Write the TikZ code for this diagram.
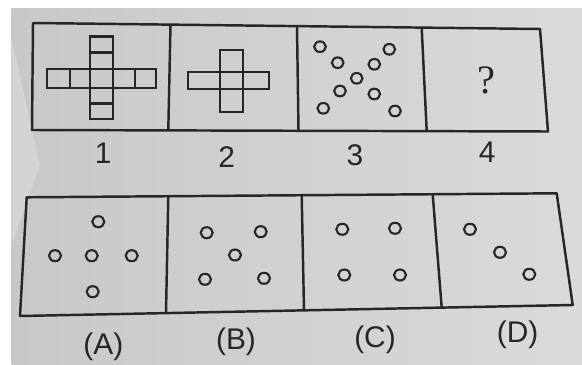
\documentclass[tikz,border=0pt]{standalone}
\usepackage{fontspec}
\setmainfont{Liberation Sans}
\newfontfamily\serifq{Liberation Serif}
\usepackage{tikz}
\usepackage{xcolor}
\definecolor{tinta}{RGB}{38,38,38}
\definecolor{papel1}{RGB}{200,200,198}
\definecolor{papel2}{RGB}{218,218,216}

\begin{document}
\begin{tikzpicture}[x=0.02cm, y=-0.02cm,
			 marco/.style={draw=tinta, line width=1.4pt, line join=round},
			 pieza/.style={draw=tinta, line width=1.35pt},
			 punto/.style={draw=tinta, line width=1.2pt},
			 etiqueta/.style={text=tinta, font=\fontsize{17}{20}\selectfont, inner sep=0pt}
  		]
	\useasboundingbox (0,0) rectangle (582,365);

	%Fondo de la foto
		\shade[left color=papel1, right color=papel2] (11.7,8) rectangle (582,365);
		\fill[white, opacity=0.22] (11.7,40) -- (40,165) -- (11.7,245) -- cycle;

	%Esquinas de la fila de arriba
		\coordinate (a1) at (33,23);
		\coordinate (a2) at (540,29);
		\coordinate (a3) at (548,131.5);
		\coordinate (a4) at (32,130);
		\coordinate (ad1) at (170.5,25);
		\coordinate (ad1b) at (168.3,130);
		\coordinate (ad2) at (297,26.5);
		\coordinate (ad2b) at (298.5,130.5);
		\coordinate (ad3) at (421.7,28);
		\coordinate (ad3b) at (426.7,131);
	%Esquinas de la fila de abajo
		\coordinate (b1) at (26.7,197.3);
		\coordinate (b2) at (556.7,193.3);
		\coordinate (b3) at (572.7,305);
		\coordinate (b4) at (20,316);
		\coordinate (bd1) at (168.3,196.2);
		\coordinate (bd1b) at (166,313);
		\coordinate (bd2) at (301.7,195.3);
		\coordinate (bd2b) at (304,310.3);
		\coordinate (bd3) at (432.7,194.5);
		\coordinate (bd3b) at (441.7,307.6);

	%Marcos
		\draw[marco] (a1) -- (a2) -- (a3) -- (a4) -- cycle;
		\draw[marco] (ad1) -- (ad1b);
		\draw[marco] (ad2) -- (ad2b);
		\draw[marco] (ad3) -- (ad3b);
		\draw[marco] (b1) -- (b2) -- (b3) -- (b4) -- cycle;
		\draw[marco] (bd1) -- (bd1b);
		\draw[marco] (bd2) -- (bd2b);
		\draw[marco] (bd3) -- (bd3b);

	%Figura 1: cruz de nueve cuadros
		\draw[pieza] (90,36.5) rectangle (113.3,119.3);
		\draw[pieza] (46.7,69.3) rectangle (156,88);
		\draw[pieza] (90,52.5) -- (113.3,52.5);
		\draw[pieza] (90,103.5) -- (113.3,103.5);
		\draw[pieza] (70,69.3) -- (70,88);
		\draw[pieza] (135,69.3) -- (135,88);
	%Figura 2: cruz de cinco cuadros
		\draw[pieza] (220,50) rectangle (242.7,111.7);
		\draw[pieza] (188.3,71.7) rectangle (269.3,89.3);
	%Figura 3: nueve circulos
		\draw[punto] (320,46.7) circle[x radius=5.8, y radius=5.3];
		\draw[punto] (389.3,49.3) circle[x radius=5.8, y radius=5.3];
		\draw[punto] (337.7,62.7) circle[x radius=5.8, y radius=5.3];
		\draw[punto] (374.3,64.3) circle[x radius=5.8, y radius=5.3];
		\draw[punto] (356.7,78.3) circle[x radius=5.8, y radius=5.3];
		\draw[punto] (340,91) circle[x radius=5.8, y radius=5.3];
		\draw[punto] (374.3,94) circle[x radius=5.8, y radius=5.3];
		\draw[punto] (323.3,108.3) circle[x radius=5.8, y radius=5.3];
		\draw[punto] (395,111) circle[x radius=5.8, y radius=5.3];
	%Figura 4
		\node[text=tinta, font=\serifq\fontsize{23}{26}\selectfont, inner sep=0pt] (preg) at (486,80) {?};

	%Opcion A
		\draw[punto] (98.3,221.7) circle[x radius=6, y radius=5.5];
		\draw[punto] (55,255.7) circle[x radius=6, y radius=5.5];
		\draw[punto] (91.7,255.7) circle[x radius=6, y radius=5.5];
		\draw[punto] (131.7,255.7) circle[x radius=6, y radius=5.5];
		\draw[punto] (92.7,291.7) circle[x radius=6, y radius=5.5];
	%Opcion B
		\draw[punto] (206.7,232.7) circle[x radius=6, y radius=5.5];
		\draw[punto] (260.7,231.7) circle[x radius=6, y radius=5.5];
		\draw[punto] (235,255) circle[x radius=6, y radius=5.5];
		\draw[punto] (205,279.3) circle[x radius=6, y radius=5.5];
		\draw[punto] (264,278.3) circle[x radius=6, y radius=5.5];
	%Opcion C
		\draw[punto] (342.3,229.3) circle[x radius=6, y radius=5.5];
		\draw[punto] (395,228.3) circle[x radius=6, y radius=5.5];
		\draw[punto] (344.3,275) circle[x radius=6, y radius=5.5];
		\draw[punto] (400,275) circle[x radius=6, y radius=5.5];
	%Opcion D
		\draw[punto] (470,229.3) circle[x radius=6, y radius=5.5];
		\draw[punto] (500,252.3) circle[x radius=6, y radius=5.5];
		\draw[punto] (529.3,274.3) circle[x radius=6, y radius=5.5];

	%Numeros y letras
		\node[etiqueta] (n1) at (103.3,153.3) {1};
		\node[etiqueta] (n2) at (226.7,157) {2};
		\node[etiqueta] (n3) at (355,155) {3};
		\node[etiqueta] (n4) at (487.3,152.5) {4};
		\node[etiqueta] (la) at (103.3,346.7) {(A)};
		\node[etiqueta] (lb) at (236,341.7) {(B)};
		\node[etiqueta] (lc) at (375,340) {(C)};
		\node[etiqueta] (ld) at (517.7,335) {(D)};
	\end{tikzpicture}
\end{document}
